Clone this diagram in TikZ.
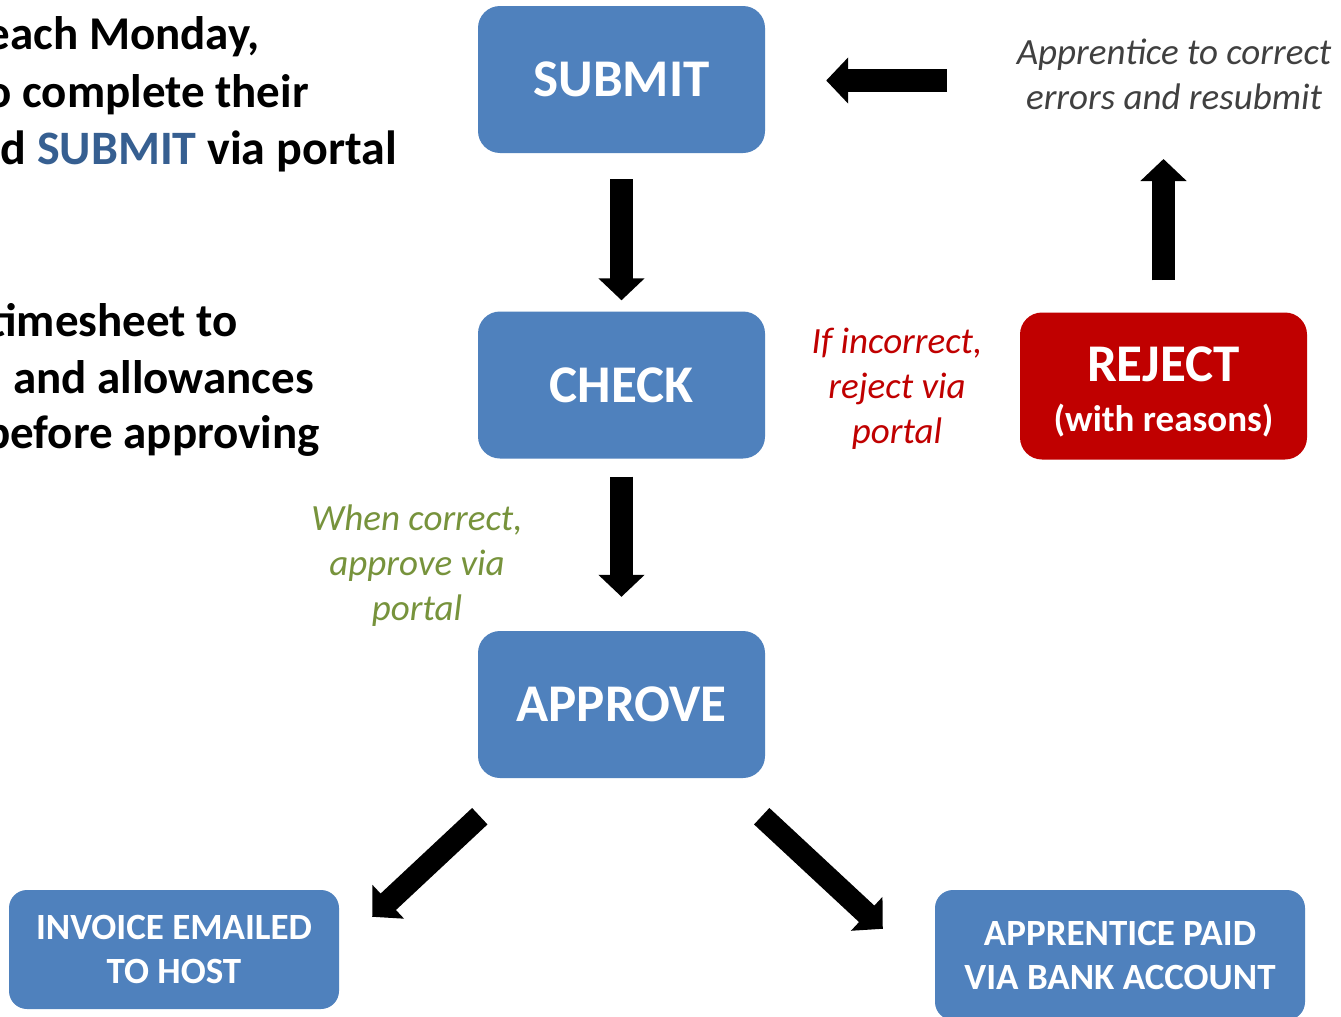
\documentclass[tikz,border=0pt]{standalone}
\usepackage{fontspec}
\setmainfont{Carlito}
\usetikzlibrary{arrows.meta,calc}

\definecolor{boxblue}{RGB}{79,129,189}
\definecolor{rejectred}{RGB}{192,0,0}
\definecolor{notegrey}{RGB}{64,64,64}
\definecolor{approvegreen}{RGB}{119,147,60}
\definecolor{keyblue}{RGB}{54,95,145}

\begin{document}
\begin{tikzpicture}[x=1pt,y=-1pt,
  stage/.style={rectangle, rounded corners=22pt, fill=boxblue, text=white,
    font=\bfseries\fontsize{53}{64}\selectfont, minimum width=287pt,
    minimum height=147pt, inner sep=0pt, align=center},
  smallstage/.style={stage, rounded corners=18pt,
    font=\bfseries\fontsize{37}{44}\selectfont},
  flowarrow/.style={line width=22.5pt, -{Triangle[length=22pt,width=45pt]}},
  note/.style={font=\itshape\fontsize{37}{45}\selectfont, align=center, inner sep=0pt},
  lefttext/.style={anchor=base east, font=\bfseries\fontsize{47}{57}\selectfont, inner sep=0pt}]

% page frame
\useasboundingbox (0,0) rectangle (1341,1017);
\fill[white] (0,0) rectangle (1341,1017);
\clip (0,0) rectangle (1341,1017);

% instructions on the left
\node[lefttext] (l1) at (260,49) {each Monday,};
\node[lefttext] (l2) at (309,107) {to complete their};
\node[lefttext, font=\bfseries\fontsize{48}{57}\selectfont] (l3) at (397,164)
  {and \textcolor{keyblue}{SUBMIT} via portal};
\node[lefttext] (l4) at (238,336) {timesheet to};
\node[lefttext] (l5) at (314,393) {and allowances};
\node[lefttext] (l6) at (320,448) {before approving};

% workflow stages
\node[stage] (submit) at (621.5,79.5) {SUBMIT};
\node[stage] (check) at (621.5,385) {CHECK};
\node[stage] (approve) at (621.5,704.5) {APPROVE};
\node[stage, fill=rejectred] (reject) at (1163.5,386) {};
\node[white, font=\bfseries\fontsize{53}{64}\selectfont, align=center, inner sep=0pt]
  (rejecttext) at ($(reject.center)+(0,6)$)
  {REJECT\\[-14pt]{\fontsize{37}{44}\selectfont (with reasons)}};
\node[smallstage, minimum width=330pt, minimum height=119pt] (invoice)
  at (174,949.5) {INVOICE EMAILED\\TO HOST};
\node[smallstage, minimum width=370pt, minimum height=130pt] (paid)
  at (1120,955) {APPRENTICE PAID\\VIA BANK ACCOUNT};

% notes
\node[note, text=notegrey] (fixnote) at (1174,74.5) {Apprentice to correct\\errors and resubmit};
\node[note, text=rejectred] (rejectnote) at (897,389) {If incorrect,\\reject via\\portal};
\node[note, text=approvegreen] (approvenote) at (417,566) {When correct,\\approve via\\portal};

% corner of the return loop, behind the note
\coordinate (loop) at (1163.5,80.5);

% connectors
\draw[flowarrow, shorten <=26pt, shorten >=11pt] (submit) -- (check);
\draw[flowarrow, shorten <=18pt, shorten >=34pt] (check) -- (approve);
\draw[flowarrow, shorten <=32pt, shorten >=78.5pt] (reject.north) -- (loop);
\draw[flowarrow, shorten <=216.5pt, shorten >=61pt] (loop) -- (loop -| submit.east);
\draw[flowarrow] ($(approve.south west)+(2,38)$) -- ($(invoice.north east)+(33,27)$);
\draw[flowarrow] ($(approve.south east)+(-3.5,38)$) -- ($(paid.north west)+(-52,39)$);
\end{tikzpicture}
\end{document}
